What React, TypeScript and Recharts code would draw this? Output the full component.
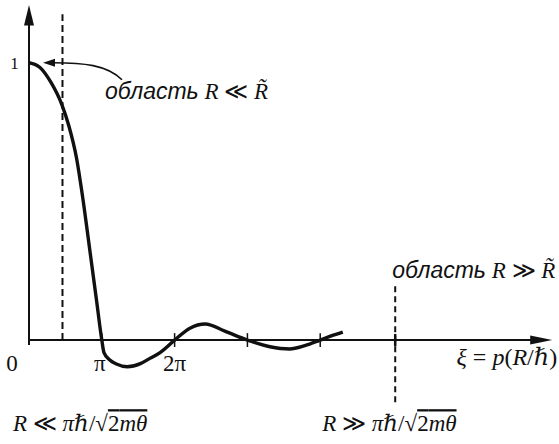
import React from 'react';
import { LineChart, Line, XAxis, YAxis, ReferenceLine, ReferenceDot } from 'recharts';

// ξ in units of π, and the plotted amplitude
const xiOverPi = [0, 0.15, 0.3, 0.45, 0.55, 0.65, 0.74, 0.84, 0.93, 1.0, 1.03, 1.11, 1.2, 1.35, 1.53, 1.66, 1.8, 2.0, 2.21, 2.42, 2.69, 3.0, 3.31, 3.58, 3.79, 4.0, 4.15, 4.31];
const amplitude = [1, 0.983, 0.93, 0.85, 0.77, 0.66, 0.51, 0.315, 0.138, 0, -0.045, -0.072, -0.086, -0.096, -0.085, -0.066, -0.045, 0, 0.043, 0.058, 0.032, 0, -0.024, -0.032, -0.02, 0, 0.015, 0.029];

const axisTickPositions = [1, 2, 3, 4];
const tickLabelValues = [0, 1, 2];
const tickLabelTexts = ['0', 'π', '2π'];
const yTickValue = 1;
const yTickText = '1';
const boundaryLeft = 0.46;
const boundaryRight = 5.03;

const data = xiOverPi.map((x, i) => ({ x, y: amplitude[i] }));

const serif = '"Liberation Serif","DejaVu Serif",serif';
const sans = '"Liberation Sans","DejaVu Sans",sans-serif';

const tickLabelOffsets = [-17, -2, 0];

const Sqrt = ({ rel }: { rel: string }) => (
  <>
    <tspan fontStyle="italic">R</tspan>
    <tspan> {rel} </tspan>
    <tspan fontStyle="italic">πℏ</tspan>
    <tspan>/√</tspan>
    <tspan style={{ textDecoration: 'overline' }}>
      <tspan>2</tspan>
      <tspan fontStyle="italic">mθ</tspan>
    </tspan>
  </>
);

export default function App() {
  return (
    <div style={{ position: 'absolute', left: 0, top: 0, background: '#fff' }}>
      <LineChart
        width={559}
        height={444}
        data={data}
        margin={{ top: 4.5, right: 5.8, bottom: 34.6, left: 29 }}
      >
        <XAxis type="number" dataKey="x" domain={[0, 7.2]} hide allowDataOverflow />
        <YAxis type="number" domain={[-0.25, 1.21]} hide allowDataOverflow />

        {/* axes */}
        <ReferenceLine
          segment={[{ x: 0, y: -0.018 }, { x: 0, y: 1.19 }]}
          stroke="#111"
          strokeWidth={2}
          ifOverflow="visible"
        />
        <ReferenceLine
          segment={[{ x: 0, y: 0 }, { x: 7.1, y: 0 }]}
          stroke="#111"
          strokeWidth={2}
          ifOverflow="visible"
        />
        {axisTickPositions.map((t) => (
          <ReferenceLine
            key={'t' + t}
            segment={[{ x: t, y: -0.025 }, { x: t, y: 0.025 }]}
            stroke="#111"
            strokeWidth={1.5}
            ifOverflow="visible"
          />
        ))}
        <ReferenceLine
          segment={[{ x: boundaryRight, y: -0.022 }, { x: boundaryRight, y: 0.022 }]}
          stroke="#111"
          strokeWidth={2.5}
          ifOverflow="visible"
        />

        {/* dashed boundaries */}
        <ReferenceLine
          segment={[{ x: boundaryLeft, y: 0 }, { x: boundaryLeft, y: 1.175 }]}
          stroke="#111"
          strokeWidth={2}
          strokeDasharray="7 4"
          ifOverflow="visible"
        />
        <ReferenceLine
          segment={[{ x: boundaryRight, y: -0.224 }, { x: boundaryRight, y: 0.2 }]}
          stroke="#111"
          strokeWidth={2}
          strokeDasharray="6 4"
          ifOverflow="visible"
        />

        {/* arrowheads */}
        <ReferenceDot
          x={0}
          y={1.21}
          r={0}
          ifOverflow="visible"
          shape={(p: any) => (
            <path d={`M${p.cx},${p.cy + 0.5} L${p.cx + 5},${p.cy + 21} L${p.cx - 5},${p.cy + 21} Z`} fill="#111" />
          )}
        />
        <ReferenceDot
          x={7.2}
          y={0}
          r={0}
          ifOverflow="visible"
          shape={(p: any) => (
            <path d={`M${p.cx - 1},${p.cy} L${p.cx - 23},${p.cy - 4.5} L${p.cx - 23},${p.cy + 4.5} Z`} fill="#111" />
          )}
        />

        {/* curve */}
        <Line
          type="monotone"
          dataKey="y"
          stroke="#111"
          strokeWidth={3.4}
          dot={false}
          activeDot={false}
          isAnimationActive={false}
        />

        {/* tick labels */}
        {tickLabelValues.map((v, i) => (
          <ReferenceDot
            key={'l' + v}
            x={v}
            y={0}
            r={0}
            ifOverflow="visible"
            shape={(p: any) => (
              <text
                x={p.cx + tickLabelOffsets[i]}
                y={p.cy + 31}
                textAnchor="middle"
                fontFamily={serif}
                fontSize={23}
                fill="#111"
              >
                {tickLabelTexts[i]}
              </text>
            )}
          />
        ))}
        <ReferenceDot
          x={0}
          y={yTickValue}
          r={0}
          ifOverflow="visible"
          shape={(p: any) => (
            <text x={p.cx - 14.5} y={p.cy + 6} textAnchor="middle" fontFamily={serif} fontSize={17} fill="#111">
              {yTickText}
            </text>
          )}
        />

        {/* axis title */}
        <ReferenceDot
          x={7.2}
          y={0}
          r={0}
          ifOverflow="visible"
          shape={(p: any) => (
            <text x={p.cx + 4} y={p.cy + 25} textAnchor="end" fontFamily={serif} fontSize={24} fill="#111">
              <tspan fontStyle="italic">ξ</tspan>
              <tspan> = </tspan>
              <tspan fontStyle="italic">p</tspan>
              <tspan>(</tspan>
              <tspan fontStyle="italic">R</tspan>
              <tspan>/</tspan>
              <tspan fontStyle="italic">ℏ</tspan>
              <tspan>)</tspan>
            </text>
          )}
        />

        {/* annotation with curved arrow */}
        <ReferenceDot
          x={0.192}
          y={1.0}
          r={0}
          ifOverflow="visible"
          shape={(p: any) => (
            <g>
              <path
                d={`M${p.cx + 10},${p.cy} C${p.cx + 40},${p.cy} ${p.cx + 64},${p.cy + 2} ${p.cx + 79},${p.cy + 17}`}
                fill="none"
                stroke="#111"
                strokeWidth={1.6}
              />
              <path d={`M${p.cx},${p.cy} L${p.cx + 12},${p.cy - 4} L${p.cx + 12},${p.cy + 4} Z`} fill="#111" />
              <text x={p.cx + 62} y={p.cy + 36} fontSize={23} fill="#111">
                <tspan fontFamily={sans} fontStyle="italic">область</tspan>
                <tspan fontFamily={serif} fontStyle="italic"> R </tspan>
                <tspan fontFamily={serif}>≪</tspan>
                <tspan fontFamily={serif} fontStyle="italic"> R̃</tspan>
              </text>
            </g>
          )}
        />
        <ReferenceDot
          x={boundaryRight}
          y={0.2}
          r={0}
          ifOverflow="visible"
          shape={(p: any) => (
            <text x={p.cx - 3} y={p.cy - 7} fontSize={23} fill="#111">
              <tspan fontFamily={sans} fontStyle="italic">область</tspan>
              <tspan fontFamily={serif} fontStyle="italic"> R </tspan>
              <tspan fontFamily={serif}>≫</tspan>
              <tspan fontFamily={serif} fontStyle="italic"> R̃</tspan>
            </text>
          )}
        />

        {/* bottom conditions */}
        <ReferenceDot
          x={boundaryLeft}
          y={-0.224}
          r={0}
          ifOverflow="visible"
          shape={(p: any) => (
            <text x={p.cx - 49.5} y={p.cy + 29} fontFamily={serif} fontSize={23} fill="#111">
              <Sqrt rel="≪" />
            </text>
          )}
        />
        <ReferenceDot
          x={boundaryRight}
          y={-0.224}
          r={0}
          ifOverflow="visible"
          shape={(p: any) => (
            <text x={p.cx - 73} y={p.cy + 29} fontFamily={serif} fontSize={23} fill="#111">
              <Sqrt rel="≫" />
            </text>
          )}
        />
      </LineChart>
    </div>
  );
}
